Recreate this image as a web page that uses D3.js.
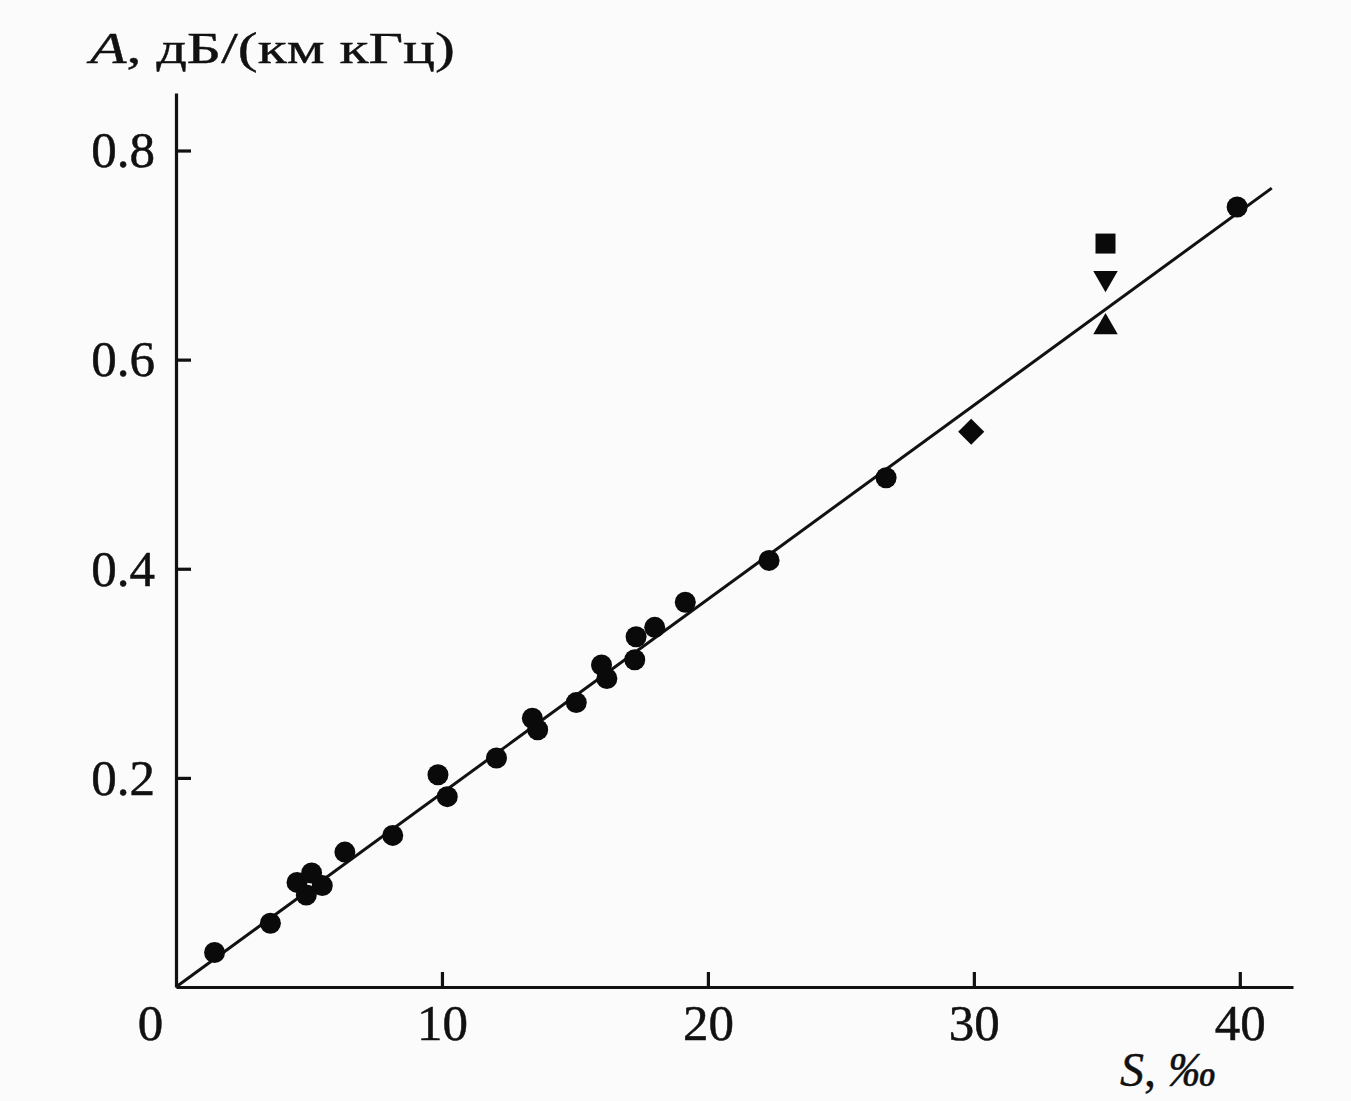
<!DOCTYPE html>
<html>
<head>
<meta charset="utf-8">
<script src="https://cdn.jsdelivr.net/npm/d3@7"></script>
<style>
  body { margin: 0; background: #fbfbfb; }
  svg { display: block; }
  .axis path, .axis line { stroke: #111; stroke-width: 3.2; }
  .axis text { font-family: "Liberation Serif", "Times New Roman", serif; font-size: 51px; fill: #111; stroke: #111; stroke-width: 0.5; }
  .label { font-family: "Liberation Serif", "Times New Roman", serif; fill: #111; stroke: #111; stroke-width: 0.4; }
</style>
</head>
<body>
<div id="chart"></div>
<script>
// salinity S (per mille) and absorption A for the filled circles
var circleS = [1.45, 3.55, 4.55, 5.1, 5.5, 4.9, 6.35, 8.15, 9.85, 10.2, 12.05, 13.4, 13.6,
  15.05, 16.0, 16.2, 17.25, 17.3, 18.0, 19.15, 22.3, 26.7, 39.9];
var circleA = [0.033, 0.061, 0.100, 0.109, 0.097, 0.088, 0.129, 0.145, 0.203, 0.182, 0.219, 0.257, 0.246,
  0.272, 0.308, 0.295, 0.313, 0.335, 0.344, 0.368, 0.408, 0.487, 0.746];

// the four other markers
var otherS = [34.95, 34.95, 34.95, 29.9];
var otherA = [0.711, 0.678, 0.631, 0.531];
var otherShape = ["square", "triangleDown", "triangleUp", "diamond"];

// fitted straight line
var fitS = [0, 41.2];
var fitA = [0, 0.764];

var xTicks = [0, 10, 20, 30, 40];
var yTicks = [0.2, 0.4, 0.6, 0.8];

var svgWidth = 1351;
var svgHeight = 1101;

var svg = d3.select("#chart")
  .append("svg")
  .attr("width", svgWidth)
  .attr("height", svgHeight);

var xScale = d3.scaleLinear()
  .domain([0, 42])
  .range([176, 1293]);

var yScale = d3.scaleLinear()
  .domain([0, 0.855])
  .range([987, 93]);

// x axis
var xAxis = svg.append("g")
  .attr("class", "axis")
  .attr("transform", "translate(0, 987)")
  .call(d3.axisBottom(xScale)
    .tickValues(xTicks)
    .tickSizeInner(-15)
    .tickSizeOuter(0)
    .tickPadding(17)
    .tickFormat(d3.format("d")));

// the zero label sits left of the corner, no tick mark there
xAxis.selectAll(".tick").filter(d => d === 0).select("line").remove();
xAxis.selectAll(".tick").filter(d => d === 0).select("text").attr("x", -26);

// y axis
svg.append("g")
  .attr("class", "axis")
  .attr("transform", "translate(176, 0)")
  .call(d3.axisLeft(yScale)
    .tickValues(yTicks)
    .tickSizeInner(-15)
    .tickSizeOuter(0)
    .tickPadding(21)
    .tickFormat(d3.format(".1f")));

svg.selectAll(".axis .domain").attr("fill", "none");

// fitted line
var line = d3.line()
  .x((d, i) => xScale(fitS[i]))
  .y((d, i) => yScale(fitA[i]));

svg.append("path")
  .datum(fitS)
  .attr("d", line)
  .attr("fill", "none")
  .attr("stroke", "#111")
  .attr("stroke-width", 3);

// circles
svg.selectAll(".dot")
  .data(circleS)
  .enter()
  .append("circle")
  .attr("class", "dot")
  .attr("cx", d => xScale(d))
  .attr("cy", (d, i) => yScale(circleA[i]))
  .attr("r", 10.5)
  .attr("fill", "#0a0a0a");

// other markers
function markerPath(shape) {
  if (shape === "square") return d3.symbol(d3.symbolSquare, 400)();
  if (shape === "diamond") return d3.symbol(d3.symbolSquare, 340)();
  return d3.symbol(d3.symbolTriangle, 260)();
}

function markerRotate(shape) {
  if (shape === "diamond") return 45;
  if (shape === "triangleDown") return 180;
  return 0;
}

svg.selectAll(".mark")
  .data(otherS)
  .enter()
  .append("path")
  .attr("class", "mark")
  .attr("d", (d, i) => markerPath(otherShape[i]))
  .attr("transform", (d, i) =>
    `translate(${xScale(d)}, ${yScale(otherA[i])}) rotate(${markerRotate(otherShape[i])})`)
  .attr("fill", "#0a0a0a");

// axis titles
var yTitle = svg.append("text")
  .attr("class", "label")
  .attr("x", 90)
  .attr("y", 63)
  .attr("font-size", 45)
  .attr("textLength", 365)
  .attr("lengthAdjust", "spacingAndGlyphs");
yTitle.append("tspan").attr("font-style", "italic").text("A");
yTitle.append("tspan").text(", дБ/(км кГц)");

var xTitle = svg.append("text")
  .attr("class", "label")
  .attr("x", 1120)
  .attr("y", 1086)
  .attr("font-size", 48);
xTitle.append("tspan").attr("font-style", "italic").text("S");
xTitle.append("tspan").text(", ");
xTitle.append("tspan").attr("font-style", "italic").text("‰");
</script>
</body>
</html>
